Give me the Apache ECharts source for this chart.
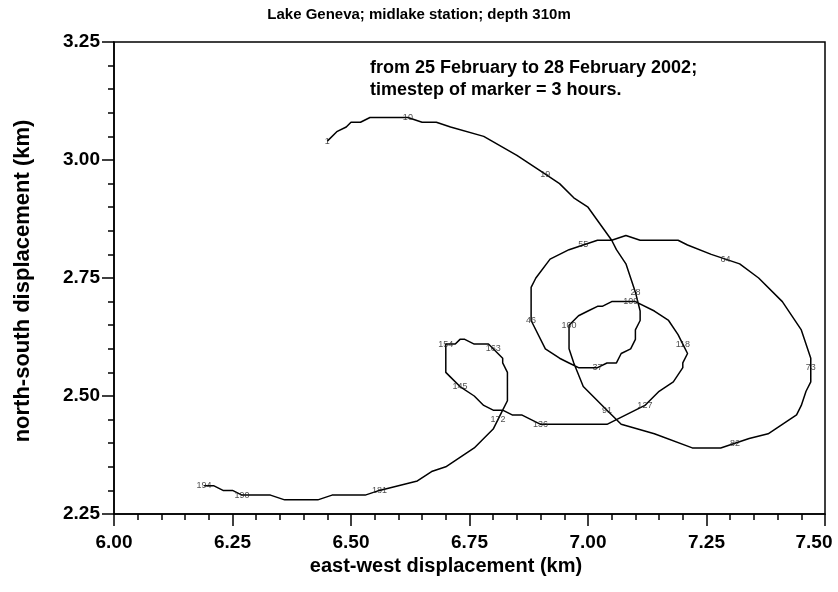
<!DOCTYPE html>
<html>
<head>
<meta charset="utf-8">
<script src="https://cdn.jsdelivr.net/npm/echarts@6/dist/echarts.min.js"></script>
<style>
  html, body { margin: 0; padding: 0; background: #fff; }
  #chart { width: 838px; height: 592px; }
</style>
</head>
<body>
<div id="chart"></div>
<script>
// Drifter track: east-west and north-south displacement (km), in time order
const trackEast = [
  6.45, 6.47, 6.49, 6.50, 6.52, 6.54, 6.62, 6.65, 6.68, 6.71, 6.78, 6.85, 6.91, 6.94, 6.97, 7.00,
  7.05, 7.06, 7.08, 7.09, 7.10, 7.11, 7.11, 7.10, 7.10, 7.09, 7.07, 7.06, 7.04, 7.02,
  6.98, 6.96, 6.94, 6.91, 6.88, 6.88, 6.89, 6.92, 6.96, 6.99,
  7.02, 7.05, 7.08, 7.11, 7.19, 7.21, 7.26, 7.29, 7.32, 7.36, 7.41, 7.45, 7.47, 7.47,
  7.47, 7.46, 7.45, 7.44, 7.41, 7.38, 7.34, 7.31, 7.28, 7.22, 7.14, 7.07, 7.04,
  6.99, 6.97, 6.96, 6.96, 6.98, 7.00, 7.02, 7.03, 7.05, 7.09, 7.10, 7.14, 7.17, 7.19, 7.20,
  7.21, 7.20, 7.20, 7.18, 7.15, 7.12, 7.10, 7.06, 7.04, 6.90,
  6.88, 6.86, 6.84, 6.82, 6.80, 6.78, 6.76, 6.73, 6.71, 6.70, 6.70, 6.70,
  6.72, 6.73, 6.74, 6.76, 6.79, 6.80, 6.82, 6.82, 6.83, 6.83, 6.82, 6.81,
  6.80, 6.78, 6.76, 6.73, 6.70, 6.67, 6.64, 6.60, 6.56,
  6.53, 6.46, 6.43, 6.36, 6.33, 6.27, 6.25, 6.23, 6.21, 6.19
];
const trackNorth = [
  3.04, 3.06, 3.07, 3.08, 3.08, 3.09, 3.09, 3.08, 3.08, 3.07, 3.05, 3.01, 2.97, 2.95, 2.92, 2.90,
  2.83, 2.81, 2.78, 2.75, 2.72, 2.68, 2.66, 2.64, 2.62, 2.60, 2.59, 2.57, 2.57, 2.56,
  2.56, 2.57, 2.58, 2.60, 2.66, 2.73, 2.75, 2.79, 2.81, 2.82,
  2.83, 2.83, 2.84, 2.83, 2.83, 2.82, 2.80, 2.79, 2.78, 2.75, 2.70, 2.64, 2.58, 2.56,
  2.53, 2.51, 2.48, 2.46, 2.44, 2.42, 2.41, 2.40, 2.39, 2.39, 2.42, 2.44, 2.47,
  2.52, 2.57, 2.60, 2.65, 2.67, 2.68, 2.69, 2.69, 2.70, 2.70, 2.70, 2.68, 2.66, 2.63, 2.61,
  2.59, 2.57, 2.56, 2.53, 2.51, 2.48, 2.47, 2.45, 2.44, 2.44,
  2.45, 2.46, 2.46, 2.47, 2.47, 2.48, 2.50, 2.52, 2.54, 2.55, 2.60, 2.61,
  2.61, 2.62, 2.62, 2.61, 2.61, 2.60, 2.58, 2.57, 2.55, 2.49, 2.47, 2.45,
  2.43, 2.41, 2.39, 2.37, 2.35, 2.34, 2.32, 2.31, 2.30,
  2.29, 2.29, 2.28, 2.28, 2.29, 2.29, 2.30, 2.30, 2.31, 2.31
];

// Marker numbers (one every 3 hours) and the track vertex each one sits on
const markerNumber = [1, 10, 19, 28, 37, 46, 55, 64, 73, 82, 91, 100, 109, 118, 127, 136, 145, 154, 163, 172, 181, 190, 194];
const markerVertex = [0, 6, 12, 20, 29, 34, 39, 47, 53, 61, 66, 70, 76, 81, 87, 91, 99, 103, 109, 115, 124, 130, 134];

// Axis ticks
const eastTicks = [6.00, 6.25, 6.50, 6.75, 7.00, 7.25, 7.50];
const northTicks = [2.25, 2.50, 2.75, 3.00, 3.25];

const titleText = 'Lake Geneva; midlake station; depth 310m';
const noteLines = ['from 25 February to 28 February 2002;', 'timestep of marker = 3 hours.'];
const eastTitle = 'east-west displacement (km)';
const northTitle = 'north-south displacement (km)';

const FONT = '"Liberation Sans", Arial, Helvetica, sans-serif';

const trackData = trackEast.map((e, i) => [e, trackNorth[i]]);
const markerData = markerNumber.map((n, i) => {
  const v = markerVertex[i];
  return { value: [trackEast[v], trackNorth[v]], name: String(n) };
});

const chart = echarts.init(document.getElementById('chart'), null, { renderer: 'canvas' });

const axisCommon = {
  type: 'value',
  splitLine: { show: false },
  axisLine: { show: true, onZero: false, lineStyle: { color: '#000', width: 1.5 } },
  axisTick: { show: true, inside: false, length: 12, lineStyle: { color: '#000', width: 1.5 } },
  minorTick: { show: true, splitNumber: 5, length: 6, lineStyle: { color: '#000', width: 1.5 } }
};

const tickFont = { fontFamily: FONT, fontWeight: 'bold', fontSize: 19, color: '#000' };
const eastMax = eastTicks[eastTicks.length - 1];

chart.setOption({
  animation: false,
  backgroundColor: '#fff',
  title: {
    text: titleText,
    left: 'center',
    top: 2,
    textStyle: { fontFamily: FONT, fontWeight: 'bold', fontSize: 15, color: '#000' }
  },
  grid: {
    left: 114, right: 13, top: 42, bottom: 78,
    outerBoundsMode: 'none',
    containLabel: false,
    show: true, borderColor: '#000', borderWidth: 1.5, backgroundColor: 'transparent'
  },
  xAxis: Object.assign({}, axisCommon, {
    min: eastTicks[0],
    max: eastMax,
    interval: eastTicks[1] - eastTicks[0],
    axisLabel: Object.assign({}, tickFont, {
      margin: 19,
      // the last label is nudged left so it stays inside the canvas
      formatter: v => Math.abs(v - eastMax) < 1e-9 ? '{edge|' + v.toFixed(2) + '}' : v.toFixed(2),
      rich: { edge: Object.assign({}, tickFont, { padding: [0, 22, 0, 0] }) }
    })
  }),
  yAxis: Object.assign({}, axisCommon, {
    min: northTicks[0],
    max: northTicks[northTicks.length - 1],
    interval: northTicks[1] - northTicks[0],
    axisLabel: Object.assign({}, tickFont, {
      margin: 14,
      formatter: v => v.toFixed(2)
    })
  }),
  graphic: [
    {
      type: 'text',
      left: 370,
      top: 57,
      style: {
        text: noteLines.join('\n'),
        font: 'bold 18px ' + FONT,
        fill: '#000',
        lineHeight: 22
      }
    },
    {
      type: 'text',
      x: 446,
      y: 566,
      style: {
        text: eastTitle,
        font: 'bold 20px ' + FONT,
        fill: '#000',
        align: 'center',
        verticalAlign: 'middle'
      }
    },
    {
      type: 'text',
      x: 23,
      y: 281,
      rotation: Math.PI / 2,
      style: {
        text: northTitle,
        font: 'bold 22px ' + FONT,
        fill: '#000',
        align: 'center',
        verticalAlign: 'middle'
      }
    }
  ],
  series: [
    {
      type: 'line',
      data: trackData,
      showSymbol: false,
      symbol: 'none',
      smooth: false,
      lineStyle: { color: '#000', width: 1.5 },
      z: 2
    },
    {
      type: 'scatter',
      data: markerData,
      symbol: 'circle',
      symbolSize: 1,
      itemStyle: { color: 'rgba(0,0,0,0)' },
      label: {
        show: true,
        position: 'inside',
        formatter: p => p.name,
        fontFamily: FONT,
        fontSize: 9,
        color: '#222'
      },
      z: 3
    }
  ]
});
</script>
</body>
</html>
